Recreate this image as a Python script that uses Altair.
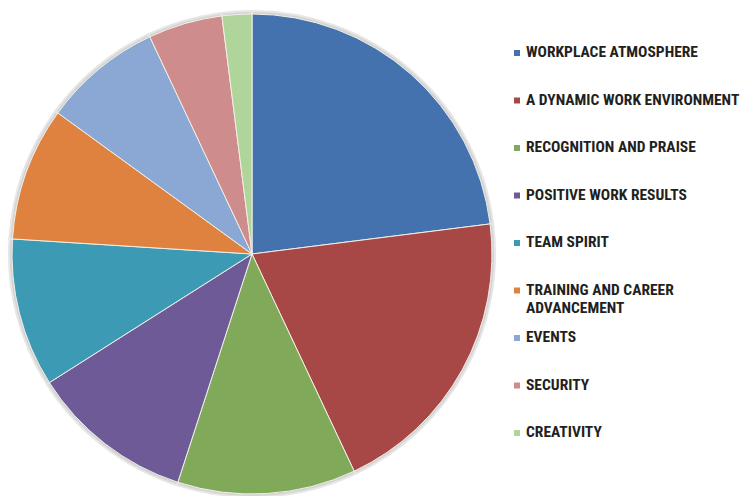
import altair as alt
import pandas as pd

categories = [
    "WORKPLACE ATMOSPHERE",
    "A DYNAMIC WORK ENVIRONMENT",
    "RECOGNITION AND PRAISE",
    "POSITIVE WORK RESULTS",
    "TEAM SPIRIT",
    "TRAINING AND CAREER ADVANCEMENT",
    "EVENTS",
    "SECURITY",
    "CREATIVITY",
]
legend_text = [
    "WORKPLACE ATMOSPHERE",
    "A DYNAMIC WORK ENVIRONMENT",
    "RECOGNITION AND PRAISE",
    "POSITIVE WORK RESULTS",
    "TEAM SPIRIT",
    "TRAINING AND CAREER\nADVANCEMENT",
    "EVENTS",
    "SECURITY",
    "CREATIVITY",
]
values = [23, 20, 12, 11, 10, 9, 8, 5, 2]
colors = ["#4472AE", "#A84846", "#80AA5A", "#6D5A97", "#3C9AB5",
          "#DF8240", "#8BA7D3", "#CF8C8C", "#AFD59B"]

df = pd.DataFrame({
    "category": categories,
    "text": legend_text,
    "value": values,
    "order": list(range(len(categories))),
})

color_scale = alt.Scale(domain=categories, range=colors)

base = alt.Chart(df)

shadow = base.mark_arc(radius=243, color="#d4d4d4", stroke="#e6e6e6", strokeWidth=2).encode(
    theta=alt.Theta("value:Q", stack=True),
    order=alt.Order("order:Q"),
    x=alt.value(252), y=alt.value(254),
)

pie = base.mark_arc(radius=240, stroke="#f2efe6", strokeWidth=1).encode(
    theta=alt.Theta("value:Q", stack=True),
    order=alt.Order("order:Q"),
    color=alt.Color("category:N", scale=color_scale, legend=None),
    x=alt.value(252), y=alt.value(254),
)

left = alt.layer(shadow, pie).properties(width=505, height=496)

yscale = alt.Scale(type="point", domain=categories, range=[53, 433], padding=0)

sym = base.mark_square(size=36, opacity=1).encode(
    x=alt.value(12),
    y=alt.Y("category:N", scale=yscale, axis=None),
    color=alt.Color("category:N", scale=color_scale, legend=None),
)
txt = base.mark_text(
    align="left", baseline="top", dy=-8, lineBreak="\n", lineHeight=18,
    font="Roboto Condensed, Roboto", fontWeight="bold", fontSize=15.5, color="#231f20",
).encode(
    x=alt.value(21),
    y=alt.Y("category:N", scale=yscale, axis=None),
    text="text:N",
)
right = alt.layer(sym, txt).properties(width=225, height=496)

chart = alt.hconcat(left, right, spacing=0).configure(
    padding=0, background="white"
).configure_view(stroke=None)

chart.save("out.html", embed_options={"renderer": "svg", "actions": False})
